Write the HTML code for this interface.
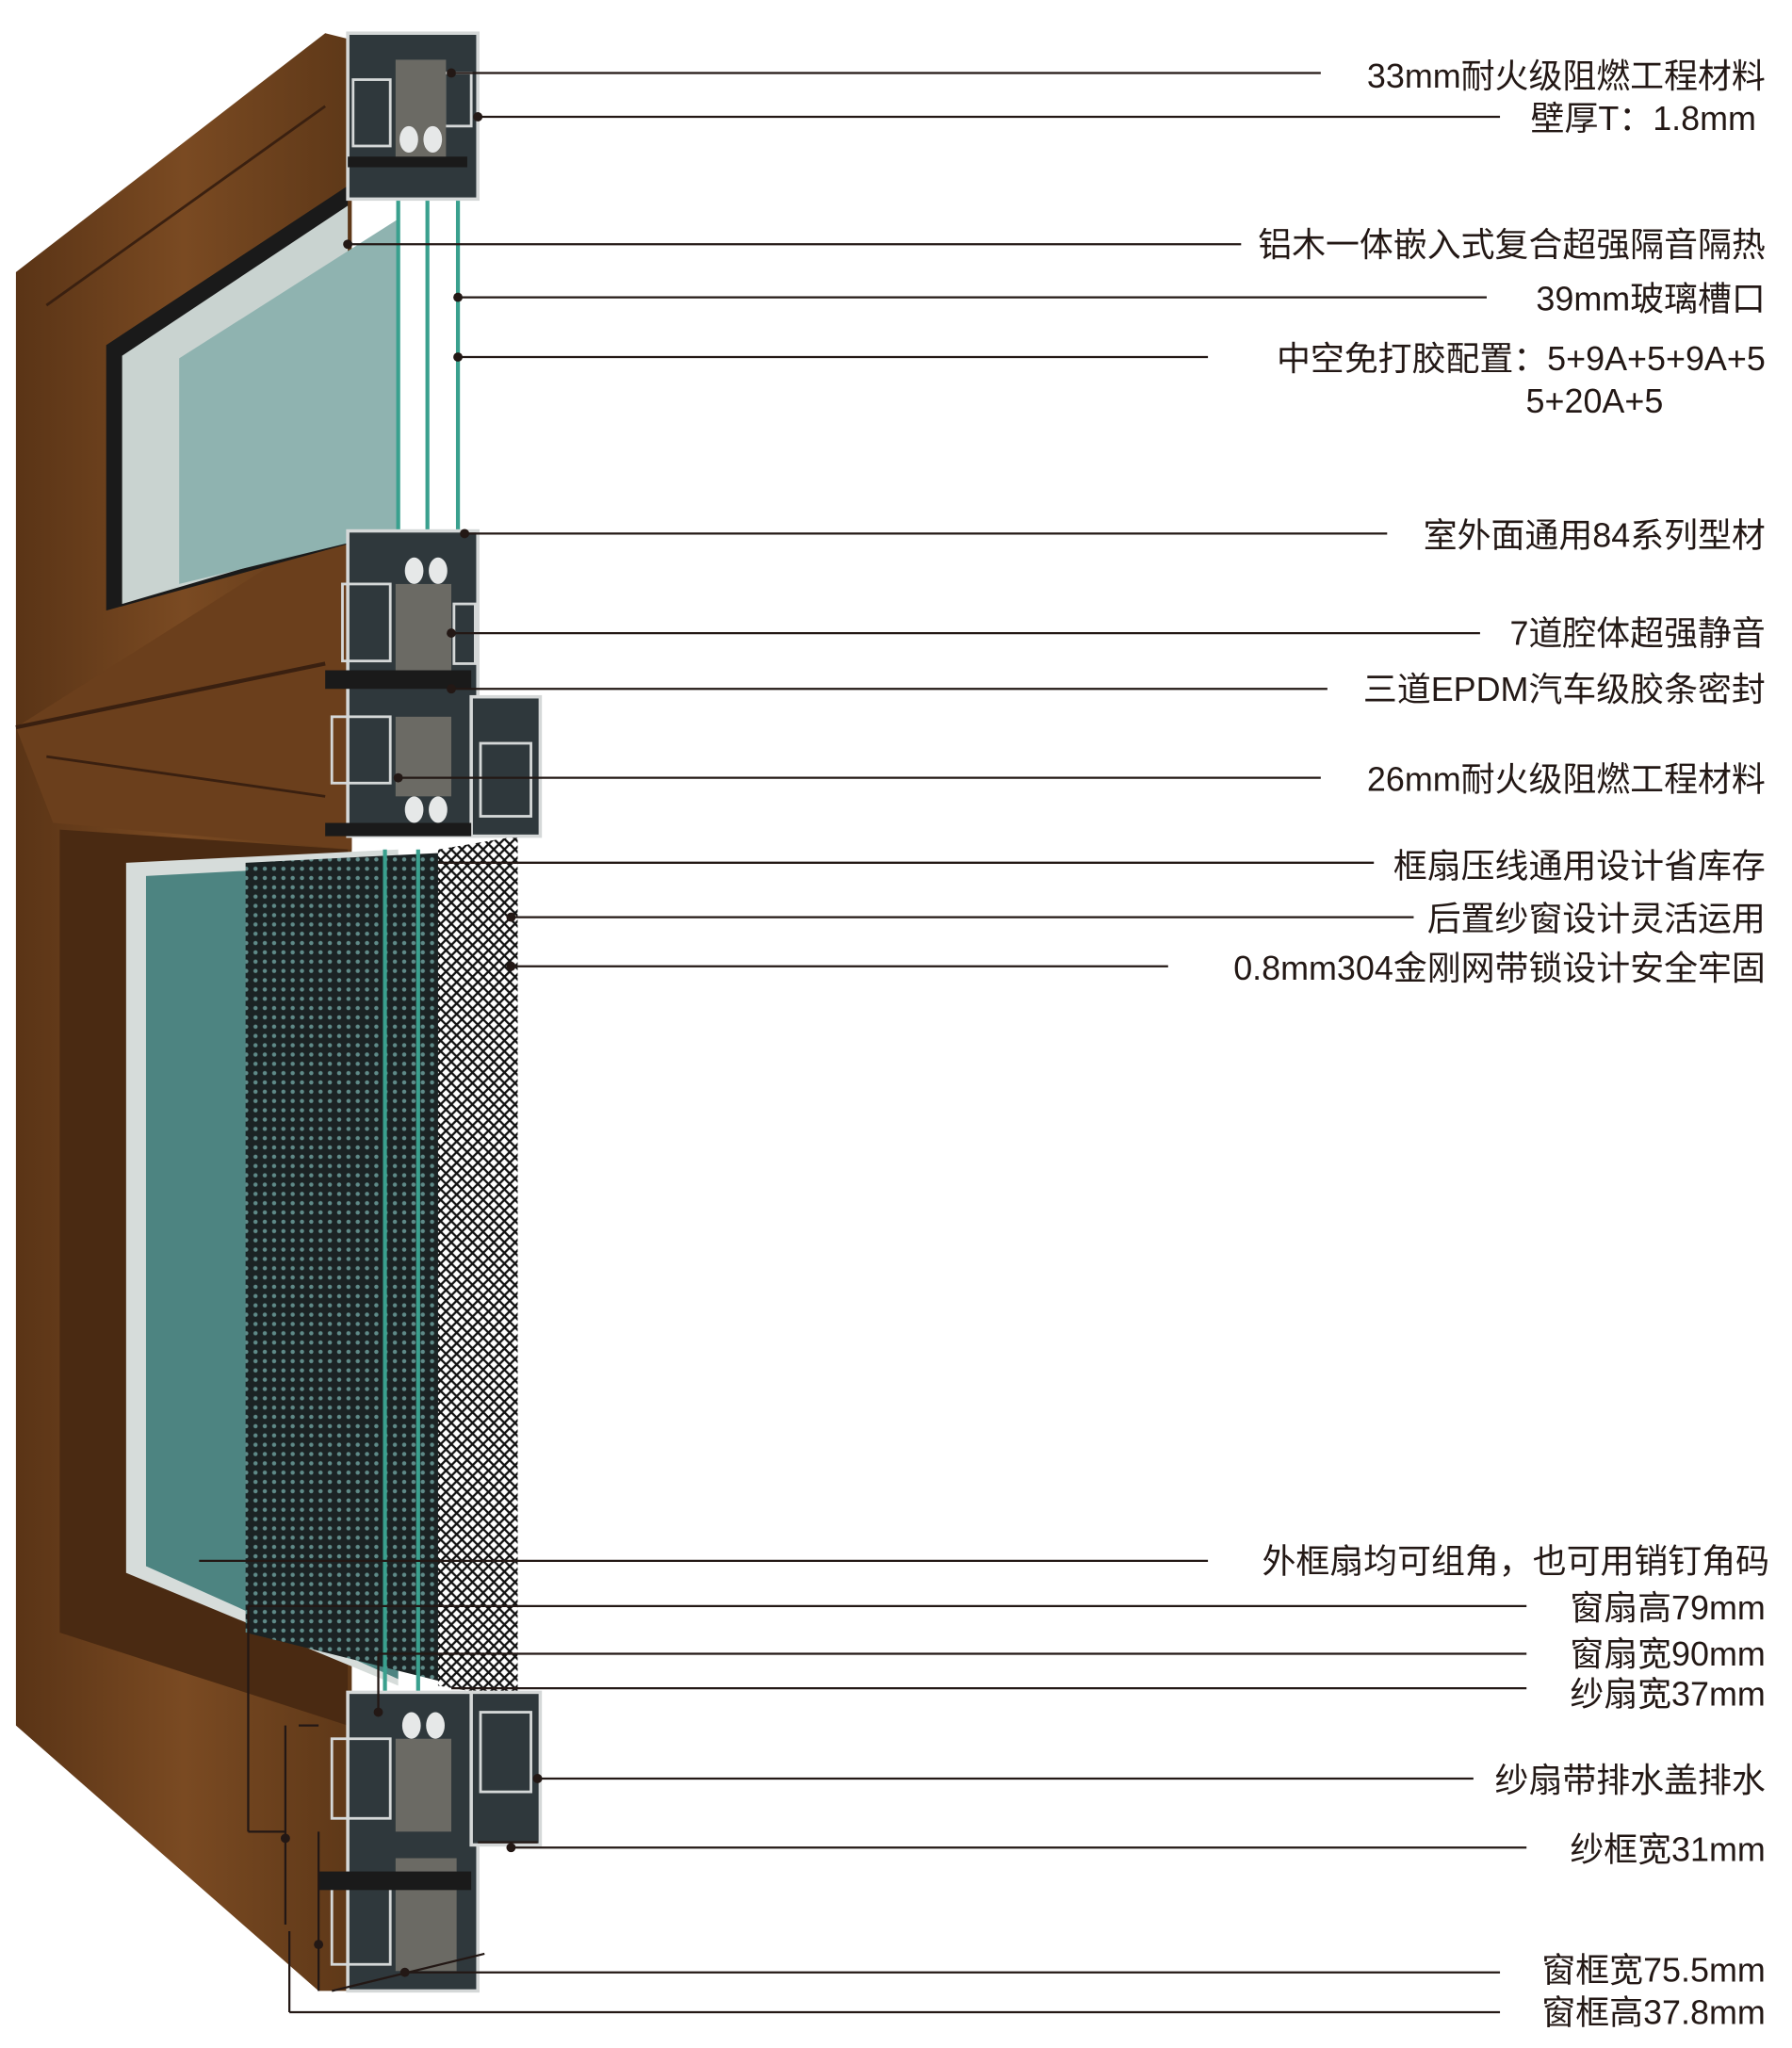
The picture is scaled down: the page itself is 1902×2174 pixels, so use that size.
<!DOCTYPE html>
<html><head><meta charset="utf-8"><style>
html,body{margin:0;padding:0;background:#fff;}
svg{display:block;}
text{font-family:"Liberation Sans","Noto Sans CJK SC",sans-serif;font-size:25.5px;fill:#231815;}
</style></head><body>
<svg width="1902" height="2174" viewBox="0 0 1350 1543" preserveAspectRatio="none" xmlns="http://www.w3.org/2000/svg">
<defs>
<pattern id="mesh" width="7" height="7" patternUnits="userSpaceOnUse">
<rect width="7" height="7" fill="#1b2324"/>
<circle cx="3.5" cy="3.5" r="1.6" fill="#5f8a88"/>
</pattern>
<pattern id="mesh2" width="8" height="8" patternUnits="userSpaceOnUse">
<rect width="8" height="8" fill="#fff"/>
<path d="M0 4L4 0L8 4L4 8Z" fill="none" stroke="#111" stroke-width="1.6"/>
</pattern>
<linearGradient id="wood" x1="0" x2="1">
<stop offset="0" stop-color="#5a3416"/><stop offset="0.5" stop-color="#7a4a22"/><stop offset="1" stop-color="#5e3818"/>
</linearGradient>
</defs>
<polygon points="12,205 245,25 265,30 265,1500 240,1500 12,1300" fill="url(#wood)"/>
<polygon points="12,548 245,400 265,400 265,640 40,620" fill="#6b3f1c"/>
<line x1="12" y1="548" x2="245" y2="500" stroke="#3a2010" stroke-width="3"/>
<line x1="35" y1="230" x2="245" y2="80" stroke="#3a2010" stroke-width="2"/>
<line x1="35" y1="570" x2="245" y2="600" stroke="#3a2010" stroke-width="2"/>
<polygon points="80,260 262,140 262,410 80,460" fill="#1a1a1a"/>
<polygon points="92,268 262,155 262,405 92,455" fill="#c9d3d0"/>
<polygon points="135,270 300,165 300,400 135,440" fill="#8fb3b0"/>
<polygon points="45,625 262,640 262,1300 45,1230" fill="#4a2a12"/>
<polygon points="95,650 300,640 300,1270 95,1185" fill="#d6dcda"/>
<polygon points="110,660 300,650 300,1265 110,1180" fill="#4d8481"/>
<polygon points="185,650 385,640 385,1280 185,1230" fill="url(#mesh)"/>
<polygon points="330,640 390,630 390,1280 330,1270" fill="url(#mesh2)"/>
<g stroke="#3aa08e" stroke-width="3">
<line x1="300" y1="150" x2="300" y2="400"/><line x1="322" y1="150" x2="322" y2="400"/><line x1="345" y1="150" x2="345" y2="400"/>
<line x1="290" y1="640" x2="290" y2="1275"/><line x1="315" y1="640" x2="315" y2="1275"/>
</g>
<!-- profile sections -->
<g fill="#2f383c" stroke="#d5d8d8" stroke-width="2.5">
<rect x="262" y="25" width="98" height="125"/>
<rect x="262" y="400" width="98" height="230"/>
<rect x="355" y="525" width="52" height="105"/>
<rect x="262" y="1275" width="98" height="225"/>
<rect x="355" y="1275" width="52" height="115"/>
</g>
<g fill="none" stroke="#d5d8d8" stroke-width="2">
<rect x="266" y="60" width="28" height="50"/><rect x="335" y="55" width="20" height="40"/>
<rect x="258" y="440" width="36" height="58"/><rect x="342" y="455" width="16" height="45"/>
<rect x="250" y="540" width="44" height="50"/><rect x="362" y="560" width="38" height="55"/>
<rect x="250" y="1310" width="44" height="60"/><rect x="362" y="1290" width="38" height="60"/>
<rect x="250" y="1420" width="44" height="60"/>
</g>
<g fill="#6b6a64">
<rect x="298" y="45" width="38" height="80"/>
<rect x="298" y="440" width="42" height="65"/>
<rect x="298" y="540" width="42" height="60"/>
<rect x="298" y="1310" width="42" height="70"/>
<rect x="298" y="1400" width="46" height="85"/>
</g>
<g fill="#e6e8e8">
<ellipse cx="308" cy="105" rx="7" ry="10"/><ellipse cx="326" cy="105" rx="7" ry="10"/>
<ellipse cx="312" cy="430" rx="7" ry="10"/><ellipse cx="330" cy="430" rx="7" ry="10"/>
<ellipse cx="312" cy="610" rx="7" ry="10"/><ellipse cx="330" cy="610" rx="7" ry="10"/>
<ellipse cx="310" cy="1300" rx="7" ry="10"/><ellipse cx="328" cy="1300" rx="7" ry="10"/>
</g>
<g fill="#1a1a1a">
<rect x="262" y="118" width="90" height="8"/><rect x="245" y="505" width="110" height="14"/>
<rect x="245" y="620" width="110" height="10"/><rect x="240" y="1410" width="115" height="14"/>
</g>
<g stroke="#231815" stroke-width="1.6" fill="none">
<line x1="340" y1="55" x2="995" y2="55"/>
<line x1="360" y1="88" x2="1130" y2="88"/>
<line x1="262" y1="184" x2="935" y2="184"/>
<line x1="345" y1="224" x2="1120" y2="224"/>
<line x1="345" y1="269" x2="910" y2="269"/>
<line x1="350" y1="402" x2="1045" y2="402"/>
<line x1="340" y1="477" x2="1115" y2="477"/>
<line x1="340" y1="519" x2="1000" y2="519"/>
<line x1="300" y1="586" x2="995" y2="586"/>
<line x1="330" y1="650" x2="1035" y2="650"/>
<line x1="385" y1="691" x2="1065" y2="691"/>
<line x1="385" y1="728" x2="880" y2="728"/>
<line x1="225" y1="1300" x2="240" y2="1300"/>
<line x1="150" y1="1176" x2="910" y2="1176"/>
<line x1="187" y1="1210" x2="1150" y2="1210"/>
<line x1="187" y1="1210" x2="187" y2="1380"/><line x1="187" y1="1380" x2="215" y2="1380"/>
<line x1="285" y1="1246" x2="1150" y2="1246"/><line x1="285" y1="1246" x2="285" y2="1290"/>
<line x1="340" y1="1272" x2="1150" y2="1272"/>
<line x1="405" y1="1340" x2="1110" y2="1340"/>
<line x1="385" y1="1392" x2="1150" y2="1392"/>
<line x1="360" y1="1388" x2="405" y2="1388"/>
<line x1="215" y1="1300" x2="215" y2="1450"/>
<line x1="240" y1="1380" x2="240" y2="1500"/>
<line x1="250" y1="1500" x2="365" y2="1472"/>
<line x1="305" y1="1486" x2="1130" y2="1486"/>
<line x1="218" y1="1455" x2="218" y2="1516"/><line x1="218" y1="1516" x2="1130" y2="1516"/>
</g>
<g fill="#231815">
<circle cx="340" cy="55" r="3.5"/><circle cx="360" cy="88" r="3.5"/><circle cx="262" cy="184" r="3.5"/>
<circle cx="345" cy="224" r="3.5"/><circle cx="345" cy="269" r="3.5"/><circle cx="350" cy="402" r="3.5"/>
<circle cx="340" cy="477" r="3.5"/><circle cx="340" cy="519" r="3.5"/><circle cx="300" cy="586" r="3.5"/>
<circle cx="385" cy="691" r="3.5"/><circle cx="385" cy="728" r="3.5"/><circle cx="405" cy="1340" r="3.5"/>
<circle cx="385" cy="1392" r="3.5"/><circle cx="305" cy="1486" r="3.5"/><circle cx="215" cy="1385" r="3.5"/>
<circle cx="240" cy="1465" r="3.5"/><circle cx="285" cy="1290" r="3.5"/>
</g>
<g text-anchor="end">
<text x="1330" y="66">33mm耐火级阻燃工程材料</text>
<text x="1323" y="98">壁厚T：1.8mm</text>
<text x="1330" y="193">铝木一体嵌入式复合超强隔音隔热</text>
<text x="1330" y="234">39mm玻璃槽口</text>
<text x="1330" y="279">中空免打胶配置：5+9A+5+9A+5</text>
<text x="1253" y="311">5+20A+5</text>
<text x="1330" y="412">室外面通用84系列型材</text>
<text x="1330" y="486">7道腔体超强静音</text>
<text x="1330" y="528">三道EPDM汽车级胶条密封</text>
<text x="1330" y="596">26mm耐火级阻燃工程材料</text>
<text x="1330" y="661">框扇压线通用设计省库存</text>
<text x="1330" y="701">后置纱窗设计灵活运用</text>
<text x="1330" y="738">0.8mm304金刚网带锁设计安全牢固</text>
<text x="1333" y="1185">外框扇均可组角，也可用销钉角码</text>
<text x="1330" y="1220">窗扇高79mm</text>
<text x="1330" y="1255">窗扇宽90mm</text>
<text x="1330" y="1285">纱扇宽37mm</text>
<text x="1330" y="1350">纱扇带排水盖排水</text>
<text x="1330" y="1402">纱框宽31mm</text>
<text x="1330" y="1493">窗框宽75.5mm</text>
<text x="1330" y="1525">窗框高37.8mm</text>
</g>
</svg>
</body></html>
